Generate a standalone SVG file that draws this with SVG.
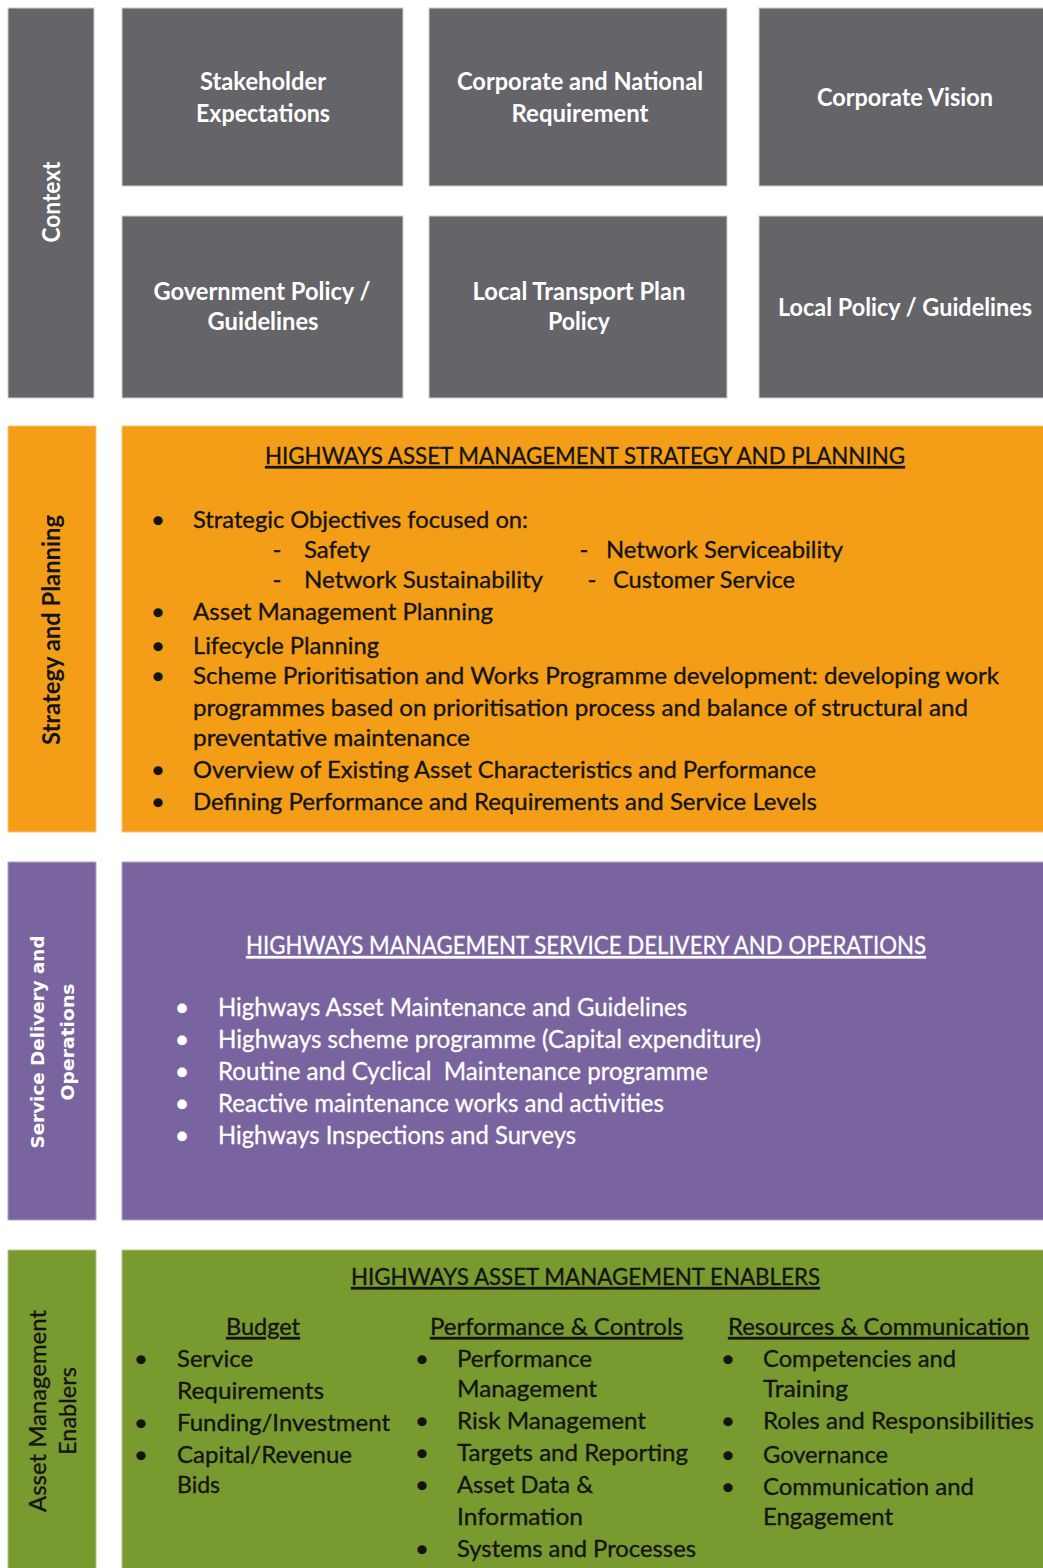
<svg xmlns="http://www.w3.org/2000/svg" width="1043" height="1568" viewBox="0 0 1043 1568">
<style>
.gray{fill:#656469;stroke:#cfcfd2;stroke-width:1}
.orange{fill:#F49E17;stroke:#f7c27a;stroke-width:1}
.purple{fill:#7964A0;stroke:#b2a6c8;stroke-width:1}
.green{fill:#799A2F;stroke:#b4c68c;stroke-width:1}
text{font-family:Lato,"Liberation Sans",sans-serif}
.ctx{fill:#ffffff;font-size:24px;font-weight:bold;text-anchor:middle}
.dk{fill:#141414;font-size:24px;stroke:#141414;stroke-width:0.35}
.wh{fill:#ffffff;font-size:25px;stroke:#ffffff;stroke-width:0.3}
.u{text-decoration:underline}
.bul{text-anchor:middle}
.vlab{font-size:24px;text-anchor:middle}
.vlab2{font-family:"DejaVu Sans","Liberation Sans",sans-serif;font-size:17px;font-weight:bold;fill:#ffffff;text-anchor:middle}
</style>
<rect width="1043" height="1568" fill="#ffffff"/>

<g id="context-label">
<rect class="gray" x="8" y="8" width="86" height="390"/>
<text class="ctx" transform="translate(52,202) rotate(-90)" x="0" y="8" textLength="81" lengthAdjust="spacingAndGlyphs">Context</text>
</g>
<g id="stakeholder-expectations">
<rect class="gray" x="122" y="8" width="281" height="178"/>
<text class="ctx" x="263" y="90" textLength="126" lengthAdjust="spacingAndGlyphs">Stakeholder</text>
<text class="ctx" x="263" y="122" textLength="134" lengthAdjust="spacingAndGlyphs">Expectations</text>
</g>
<g id="corporate-national">
<rect class="gray" x="429" y="8" width="298" height="178"/>
<text class="ctx" x="580" y="90" textLength="246" lengthAdjust="spacingAndGlyphs">Corporate and National</text>
<text class="ctx" x="580" y="122" textLength="137" lengthAdjust="spacingAndGlyphs">Requirement</text>
</g>
<g id="corporate-vision">
<rect class="gray" x="759" y="8" width="290" height="178"/>
<text class="ctx" x="905" y="106" textLength="176" lengthAdjust="spacingAndGlyphs">Corporate Vision</text>
</g>
<g id="government-policy">
<rect class="gray" x="122" y="216" width="281" height="182"/>
<text class="ctx" x="262" y="300" textLength="217" lengthAdjust="spacingAndGlyphs">Government Policy /</text>
<text class="ctx" x="263" y="330" textLength="111" lengthAdjust="spacingAndGlyphs">Guidelines</text>
</g>
<g id="local-transport-plan">
<rect class="gray" x="429" y="216" width="298" height="182"/>
<text class="ctx" x="579" y="300" textLength="213" lengthAdjust="spacingAndGlyphs">Local Transport Plan</text>
<text class="ctx" x="579" y="330" textLength="62" lengthAdjust="spacingAndGlyphs">Policy</text>
</g>
<g id="local-policy">
<rect class="gray" x="759" y="216" width="290" height="182"/>
<text class="ctx" x="905" y="316" textLength="254" lengthAdjust="spacingAndGlyphs">Local Policy / Guidelines</text>
</g>

<g id="strategy-label">
<rect class="orange" x="8" y="426" width="88" height="406"/>
<text class="dk vlab" style="font-weight:bold;stroke-width:0" transform="translate(52,630) rotate(-90)" x="0" y="8" textLength="230" lengthAdjust="spacingAndGlyphs">Strategy and Planning</text>
</g>
<g id="strategy-planning">
<rect class="orange" x="122" y="426" width="927" height="406"/>
<text class="dk u" x="265" y="464" textLength="640" lengthAdjust="spacingAndGlyphs">HIGHWAYS ASSET MANAGEMENT STRATEGY AND PLANNING</text>
<text class="dk bul" x="158" y="528">•</text>
<text class="dk" x="193" y="528" textLength="335" lengthAdjust="spacingAndGlyphs">Strategic Objectives focused on:</text>
<text class="dk bul" x="277" y="558">-</text>
<text class="dk" x="304" y="558" textLength="66" lengthAdjust="spacingAndGlyphs">Safety</text>
<text class="dk bul" x="584" y="558">-</text>
<text class="dk" x="606" y="558" textLength="237" lengthAdjust="spacingAndGlyphs">Network Serviceability</text>
<text class="dk bul" x="277" y="588">-</text>
<text class="dk" x="304" y="588" textLength="239" lengthAdjust="spacingAndGlyphs">Network Sustainability</text>
<text class="dk bul" x="592" y="588">-</text>
<text class="dk" x="613" y="588" textLength="182" lengthAdjust="spacingAndGlyphs">Customer Service</text>
<text class="dk bul" x="158" y="620">•</text>
<text class="dk" x="193" y="620" textLength="300" lengthAdjust="spacingAndGlyphs">Asset Management Planning</text>
<text class="dk bul" x="158" y="654">•</text>
<text class="dk" x="193" y="654" textLength="186" lengthAdjust="spacingAndGlyphs">Lifecycle Planning</text>
<text class="dk bul" x="158" y="684">•</text>
<text class="dk" x="193" y="684" textLength="806" lengthAdjust="spacingAndGlyphs">Scheme Prioritisation and Works Programme development: developing work</text>
<text class="dk" x="193" y="716" textLength="775" lengthAdjust="spacingAndGlyphs">programmes based on prioritisation process and balance of structural and</text>
<text class="dk" x="193" y="746" textLength="277" lengthAdjust="spacingAndGlyphs">preventative maintenance</text>
<text class="dk bul" x="158" y="778">•</text>
<text class="dk" x="193" y="778" textLength="623" lengthAdjust="spacingAndGlyphs">Overview of Existing Asset Characteristics and Performance</text>
<text class="dk bul" x="158" y="810">•</text>
<text class="dk" x="193" y="810" textLength="624" lengthAdjust="spacingAndGlyphs">Defining Performance and Requirements and Service Levels</text>
</g>

<g id="service-label">
<rect class="purple" x="8" y="862" width="88" height="358"/>
<text class="vlab2" transform="translate(38,1042) rotate(-90)" x="0" y="6" textLength="213" lengthAdjust="spacingAndGlyphs">Service Delivery and</text>
<text class="vlab2" transform="translate(68,1042) rotate(-90)" x="0" y="6" textLength="117" lengthAdjust="spacingAndGlyphs">Operations</text>
</g>
<g id="service-delivery">
<rect class="purple" x="122" y="862" width="927" height="358"/>
<text class="wh u" x="246" y="954" textLength="680" lengthAdjust="spacingAndGlyphs">HIGHWAYS MANAGEMENT SERVICE DELIVERY AND OPERATIONS</text>
<text class="wh bul" x="182" y="1016">•</text>
<text class="wh" x="218" y="1016" textLength="469" lengthAdjust="spacingAndGlyphs">Highways Asset Maintenance and Guidelines</text>
<text class="wh bul" x="182" y="1048">•</text>
<text class="wh" x="218" y="1048" textLength="543" lengthAdjust="spacingAndGlyphs">Highways scheme programme (Capital expenditure)</text>
<text class="wh bul" x="182" y="1080">•</text>
<text class="wh" x="218" y="1080" textLength="490" lengthAdjust="spacingAndGlyphs" xml:space="preserve">Routine and Cyclical  Maintenance programme</text>
<text class="wh bul" x="182" y="1112">•</text>
<text class="wh" x="218" y="1112" textLength="446" lengthAdjust="spacingAndGlyphs">Reactive maintenance works and activities</text>
<text class="wh bul" x="182" y="1144">•</text>
<text class="wh" x="218" y="1144" textLength="358" lengthAdjust="spacingAndGlyphs">Highways Inspections and Surveys</text>
</g>

<g id="enablers-label">
<rect class="green" x="8" y="1250" width="88" height="330"/>
<text class="dk vlab" transform="translate(38,1411) rotate(-90)" x="0" y="8" textLength="202" lengthAdjust="spacingAndGlyphs">Asset Management</text>
<text class="dk vlab" transform="translate(68,1411) rotate(-90)" x="0" y="8" textLength="88" lengthAdjust="spacingAndGlyphs">Enablers</text>
</g>
<g id="enablers">
<rect class="green" x="122" y="1250" width="927" height="330"/>
<text class="dk u" x="351" y="1285" textLength="469" lengthAdjust="spacingAndGlyphs">HIGHWAYS ASSET MANAGEMENT ENABLERS</text>
<text class="dk u" x="226" y="1335" textLength="74" lengthAdjust="spacingAndGlyphs">Budget</text>
<text class="dk u" x="430" y="1335" textLength="253" lengthAdjust="spacingAndGlyphs">Performance &amp; Controls</text>
<text class="dk u" x="728" y="1335" textLength="301" lengthAdjust="spacingAndGlyphs">Resources &amp; Communication</text>

<text class="dk bul" x="141" y="1367">•</text>
<text class="dk" x="177" y="1367" textLength="76" lengthAdjust="spacingAndGlyphs">Service</text>
<text class="dk" x="177" y="1399" textLength="147" lengthAdjust="spacingAndGlyphs">Requirements</text>
<text class="dk bul" x="141" y="1431">•</text>
<text class="dk" x="177" y="1431" textLength="213" lengthAdjust="spacingAndGlyphs">Funding/Investment</text>
<text class="dk bul" x="141" y="1463">•</text>
<text class="dk" x="177" y="1463" textLength="175" lengthAdjust="spacingAndGlyphs">Capital/Revenue</text>
<text class="dk" x="177" y="1493" textLength="43" lengthAdjust="spacingAndGlyphs">Bids</text>

<text class="dk bul" x="422" y="1367">•</text>
<text class="dk" x="457" y="1367" textLength="135" lengthAdjust="spacingAndGlyphs">Performance</text>
<text class="dk" x="457" y="1397" textLength="140" lengthAdjust="spacingAndGlyphs">Management</text>
<text class="dk bul" x="422" y="1429">•</text>
<text class="dk" x="457" y="1429" textLength="189" lengthAdjust="spacingAndGlyphs">Risk Management</text>
<text class="dk bul" x="422" y="1461">•</text>
<text class="dk" x="457" y="1461" textLength="231" lengthAdjust="spacingAndGlyphs">Targets and Reporting</text>
<text class="dk bul" x="422" y="1493">•</text>
<text class="dk" x="457" y="1493" textLength="136" lengthAdjust="spacingAndGlyphs">Asset Data &amp;</text>
<text class="dk" x="457" y="1525" textLength="126" lengthAdjust="spacingAndGlyphs">Information</text>
<text class="dk bul" x="422" y="1557">•</text>
<text class="dk" x="457" y="1557" textLength="239" lengthAdjust="spacingAndGlyphs">Systems and Processes</text>

<text class="dk bul" x="728" y="1367">•</text>
<text class="dk" x="763" y="1367" textLength="193" lengthAdjust="spacingAndGlyphs">Competencies and</text>
<text class="dk" x="763" y="1397" textLength="85" lengthAdjust="spacingAndGlyphs">Training</text>
<text class="dk bul" x="728" y="1429">•</text>
<text class="dk" x="763" y="1429" textLength="271" lengthAdjust="spacingAndGlyphs">Roles and Responsibilities</text>
<text class="dk bul" x="728" y="1463">•</text>
<text class="dk" x="763" y="1463" textLength="125" lengthAdjust="spacingAndGlyphs">Governance</text>
<text class="dk bul" x="728" y="1495">•</text>
<text class="dk" x="763" y="1495" textLength="211" lengthAdjust="spacingAndGlyphs">Communication and</text>
<text class="dk" x="763" y="1525" textLength="130" lengthAdjust="spacingAndGlyphs">Engagement</text>
</g>

<g id="connectors"/>
</svg>
